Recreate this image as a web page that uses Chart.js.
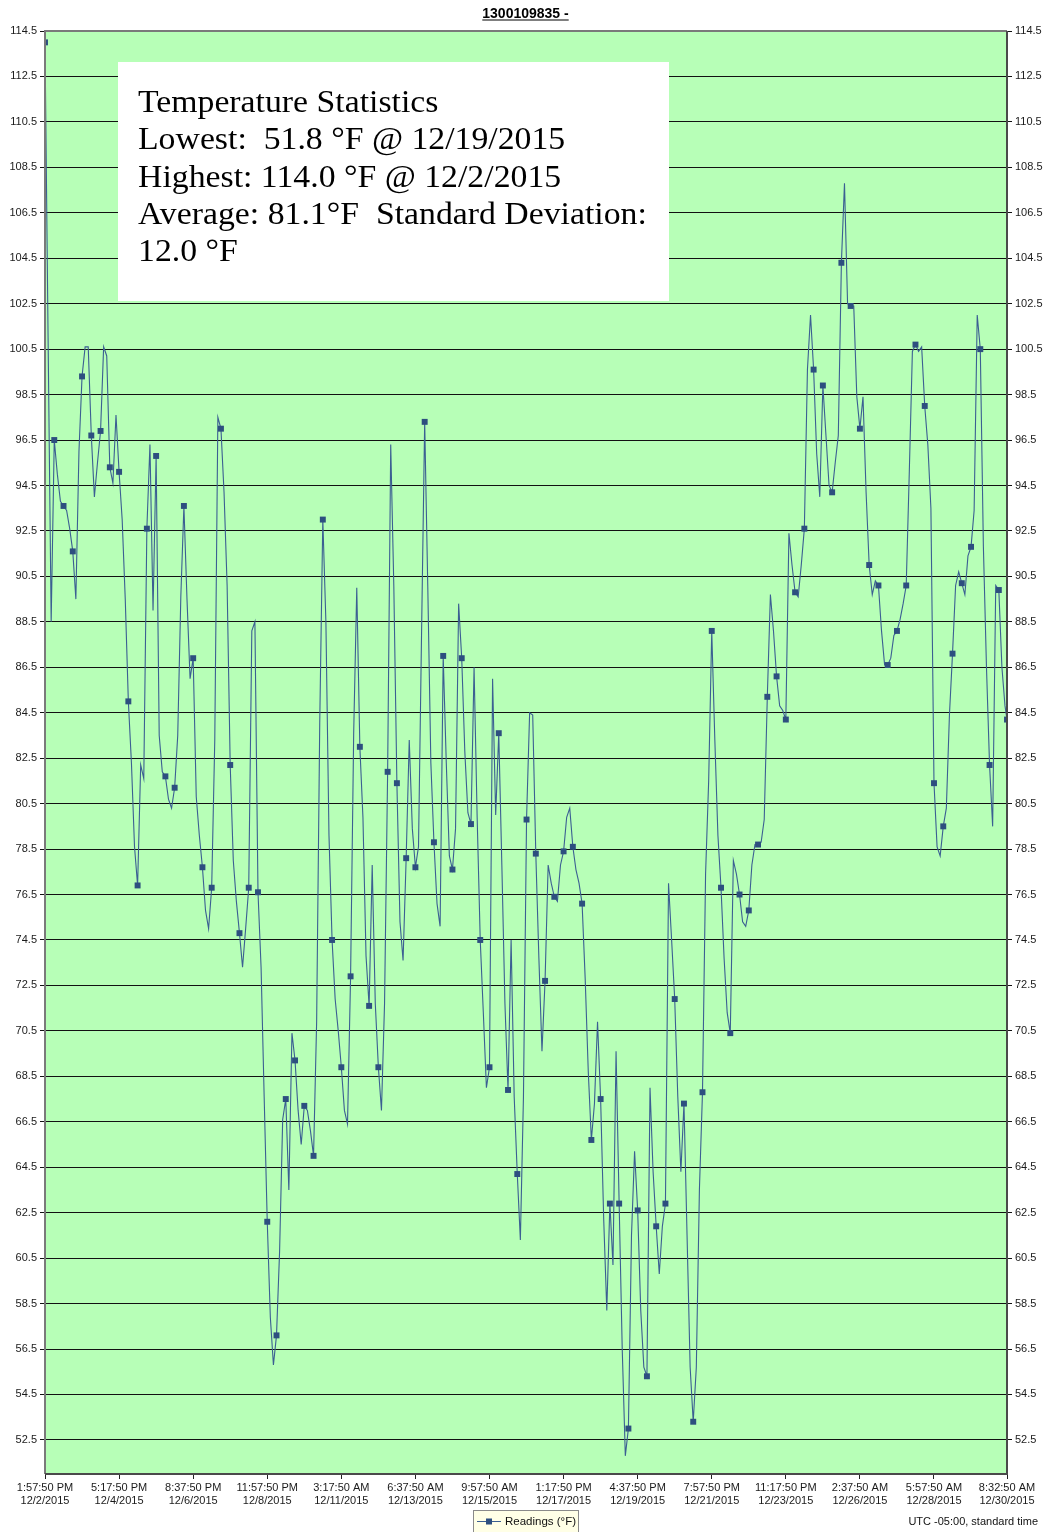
<!DOCTYPE html>
<html>
<head>
<meta charset="utf-8">
<title>1300109835 - Readings</title>
<script src="https://cdn.jsdelivr.net/npm/chart.js@4.4.1/dist/chart.umd.min.js"></script>
<style>
  html, body { margin: 0; padding: 0; background: #ffffff; }
  canvas { display: block; }
</style>
</head>
<body>
<canvas id="chart" width="1043" height="1532"></canvas>
<script>
// Logger readings (°F), one value every STEP_MIN minutes from 12/2/2015 1:57:50 PM
const readings = [
  114.0, 101.0, 88.5, 96.5, 95.0, 93.8, 93.6, 93.4, 92.6, 91.6,
  89.5, 96.0, 99.3, 100.6, 100.6, 96.7, 94.0, 95.5, 96.9, 100.6,
  100.2, 95.3, 94.6, 97.6, 95.1, 93.0, 89.5, 85.0, 82.3, 78.6,
  76.9, 82.2, 81.6, 92.6, 96.3, 89.0, 95.8, 83.5, 81.9, 81.7,
  80.7, 80.3, 81.2, 83.5, 89.6, 93.6, 89.5, 86.0, 86.9, 80.8,
  79.1, 77.7, 75.8, 75.0, 76.8, 83.3, 97.5, 97.0, 94.2, 90.1,
  82.2, 78.0, 76.2, 74.8, 73.3, 75.0, 76.8, 88.1, 88.5, 76.6,
  73.3, 67.6, 62.1, 57.9, 55.8, 57.1, 60.8, 66.6, 67.5, 63.5,
  70.4, 69.2, 67.0, 65.5, 67.2, 67.0, 66.1, 65.0, 70.9, 84.0,
  93.0, 88.5, 79.1, 74.5, 71.9, 70.5, 68.9, 67.0, 66.4, 72.9,
  83.6, 90.0, 83.0, 79.9, 73.8, 71.6, 77.8, 71.7, 68.9, 67.0,
  71.7, 81.9, 96.3, 90.1, 81.4, 75.3, 73.6, 78.1, 83.3, 79.4,
  77.7, 78.6, 88.1, 97.3, 90.1, 82.3, 78.8, 76.1, 75.1, 87.0,
  82.3, 78.2, 77.6, 79.4, 89.3, 86.9, 82.8, 80.1, 79.6, 86.5,
  79.9, 74.5, 71.3, 68.0, 68.9, 86.0, 80.0, 83.6, 77.8, 71.7,
  67.9, 74.5, 67.6, 64.2, 61.3, 67.6, 79.8, 84.5, 84.4, 78.3,
  73.7, 69.6, 72.7, 77.8, 77.0, 76.4, 76.2, 77.8, 78.4, 79.9,
  80.3, 78.6, 77.6, 77.0, 76.1, 72.8, 68.7, 65.7, 67.3, 70.9,
  67.5, 62.2, 58.2, 62.9, 60.2, 69.6, 62.9, 56.5, 51.8, 53.0,
  61.5, 65.2, 62.6, 58.2, 55.7, 55.3, 68.0, 64.3, 61.9, 59.8,
  61.9, 62.9, 77.0, 74.5, 71.9, 67.6, 64.3, 67.3, 61.5, 55.7,
  53.3, 55.7, 63.5, 67.8, 77.4, 81.5, 88.1, 83.3, 79.1, 76.8,
  73.7, 71.3, 70.4, 78.0, 77.4, 76.5, 75.3, 75.1, 75.8, 77.8,
  78.7, 78.7, 78.8, 79.8, 85.2, 89.7, 88.1, 86.1, 84.8, 84.6,
  84.2, 92.4, 91.0, 89.8, 89.6, 91.0, 92.6, 99.6, 102.0, 99.6,
  95.9, 94.0, 98.9, 96.7, 94.5, 94.2, 95.5, 96.7, 104.3, 107.8,
  102.5, 102.4, 102.4, 98.4, 97.0, 98.4, 94.2, 91.0, 89.7, 90.3,
  90.1, 88.1, 86.6, 86.6, 86.9, 87.9, 88.1, 88.6, 89.3, 90.1,
  95.1, 100.4, 100.7, 100.4, 100.6, 98.0, 96.3, 93.5, 81.4, 78.6,
  78.2, 79.5, 80.3, 84.4, 87.1, 90.1, 90.7, 90.2, 89.7, 91.4,
  91.8, 93.4, 102.0, 100.5, 91.8, 86.5, 82.2, 79.5, 90.1, 89.9,
  86.5, 84.8, 84.2
];

const STEP_MIN = 385 / 3;      // logging interval, minutes
const END_MIN = 39995;         // last reading: 12/30/2015 8:32:50 AM
const MARK_EVERY = 3;          // a marker on every third reading

// X axis ticks (minutes from the first reading) and their labels
const tickMinutes = [0, 3080, 6160, 9240, 12320, 15400, 18480, 21560, 24640, 27720, 30800, 33880, 36960, 39995];
const tickTimes = ['1:57:50 PM', '5:17:50 PM', '8:37:50 PM', '11:57:50 PM', '3:17:50 AM', '6:37:50 AM', '9:57:50 AM',
                   '1:17:50 PM', '4:37:50 PM', '7:57:50 PM', '11:17:50 PM', '2:37:50 AM', '5:57:50 AM', '8:32:50 AM'];
const tickDates = ['12/2/2015', '12/4/2015', '12/6/2015', '12/8/2015', '12/11/2015', '12/13/2015', '12/15/2015',
                   '12/17/2015', '12/19/2015', '12/21/2015', '12/23/2015', '12/26/2015', '12/28/2015', '12/30/2015'];

// Y axis ticks (°F)
const yTicks = [52.5, 54.5, 56.5, 58.5, 60.5, 62.5, 64.5, 66.5, 68.5, 70.5, 72.5, 74.5, 76.5, 78.5, 80.5, 82.5,
                84.5, 86.5, 88.5, 90.5, 92.5, 94.5, 96.5, 98.5, 100.5, 102.5, 104.5, 106.5, 108.5, 110.5, 112.5, 114.5];
const Y_MIN = 51.0, Y_MAX = 114.5;

const chartTitle = '1300109835 -';
const seriesLabel = 'Readings (°F)';
const zoneNote = 'UTC -05:00, standard time';
const statsLines = [
  'Temperature Statistics',
  'Lowest:  51.8 °F @ 12/19/2015',
  'Highest: 114.0 °F @ 12/2/2015',
  'Average: 81.1°F  Standard Deviation:',
  '12.0 °F'
];

const LINE_COLOR = '#3b5f92';
const MARK_COLOR = '#2d4f7f';
const PLOT_BG = '#b7ffb7';
const SANS = '"Liberation Sans", Arial, sans-serif';

const points = readings.map((v, i) => ({ x: Math.min(i * STEP_MIN, END_MIN), y: v }));

const decor = {
  id: 'decor',
  beforeDraw(chart) {
    const { ctx, chartArea: a } = chart;
    ctx.save();
    ctx.fillStyle = '#ffffff';
    ctx.fillRect(0, 0, chart.width, chart.height);
    ctx.fillStyle = PLOT_BG;
    ctx.fillRect(a.left, a.top, a.right - a.left, a.bottom - a.top);
    ctx.restore();
  },
  beforeDatasetsDraw(chart) {
    // statistics panel over the grid
    const { ctx, chartArea: a } = chart;
    const bx = a.left + 73, by = a.top + 31, bw = 551, bh = 239;
    ctx.save();
    ctx.fillStyle = '#ffffff';
    ctx.fillRect(bx, by, bw, bh);
    ctx.fillStyle = '#000000';
    ctx.font = '32px "Liberation Serif", "DejaVu Serif", serif';
    ctx.textBaseline = 'alphabetic';
    ctx.textAlign = 'left';
    ctx.translate(bx + 20, by + 50);
    ctx.scale(1.055, 1);
    statsLines.forEach((t, k) => ctx.fillText(t, 0, k * 37.3));
    ctx.restore();
  },
  afterDatasetsDraw(chart) {
    const { ctx, chartArea: a } = chart;
    ctx.save();
    ctx.lineWidth = 2;
    ctx.strokeStyle = '#7a7a7a';
    ctx.beginPath();
    ctx.moveTo(a.left, a.bottom); ctx.lineTo(a.left, a.top); ctx.lineTo(a.right, a.top);
    ctx.stroke();
    ctx.strokeStyle = '#4a4a4a';
    ctx.beginPath();
    ctx.moveTo(a.right, a.top); ctx.lineTo(a.right, a.bottom); ctx.lineTo(a.left, a.bottom);
    ctx.stroke();
    ctx.restore();
  },
  afterDraw(chart) {
    const { ctx } = chart;
    const cx = 525.5;
    ctx.save();
    // title, underlined
    ctx.fillStyle = '#000000';
    ctx.font = 'bold 14px ' + SANS;
    ctx.textAlign = 'center';
    ctx.textBaseline = 'alphabetic';
    ctx.fillText(chartTitle, cx, 18);
    const tw = ctx.measureText(chartTitle).width;
    ctx.fillRect(cx - tw / 2, 19.5, tw, 1);

    // legend
    const lx = 473, ly = 1510, lw = 105, lh = 24;
    ctx.fillStyle = '#ffffe6';
    ctx.fillRect(lx, ly, lw, lh);
    ctx.strokeStyle = '#8a8a8a';
    ctx.lineWidth = 1;
    ctx.strokeRect(lx + 0.5, ly + 0.5, lw, lh);
    const my = ly + 11.5;
    ctx.strokeStyle = LINE_COLOR;
    ctx.beginPath();
    ctx.moveTo(lx + 4, my); ctx.lineTo(lx + 28, my);
    ctx.stroke();
    ctx.fillStyle = MARK_COLOR;
    ctx.fillRect(lx + 13, my - 3, 6, 6);
    ctx.fillStyle = '#111111';
    ctx.font = '11.5px ' + SANS;
    ctx.textAlign = 'left';
    ctx.textBaseline = 'middle';
    ctx.fillText(seriesLabel, lx + 32, my + 0.5);

    // time zone note
    ctx.font = '11px ' + SANS;
    ctx.textAlign = 'right';
    ctx.fillText(zoneNote, 1038, 1522);
    ctx.restore();
  }
};

const tickFont = { family: SANS, size: 11, lineHeight: 1.2 };
const setYTicks = s => { s.ticks = yTicks.map(v => ({ value: v })); };

new Chart(document.getElementById('chart'), {
  type: 'line',
  data: {
    datasets: [{
      label: seriesLabel,
      data: points,
      borderColor: LINE_COLOR,
      borderWidth: 1.1,
      tension: 0,
      fill: false,
      pointStyle: 'rect',
      pointRadius: c => (c.dataIndex % MARK_EVERY === 0 || c.dataIndex === readings.length - 1 ? 4.2 : 0),
      pointHoverRadius: 0,
      pointBackgroundColor: MARK_COLOR,
      pointBorderWidth: 0,
      yAxisID: 'y'
    }]
  },
  options: {
    responsive: false,
    animation: false,
    events: [],
    layout: { padding: { top: 31, left: 0, right: 0, bottom: 0 } },
    plugins: { legend: { display: false }, tooltip: { enabled: false }, title: { display: false } },
    scales: {
      x: {
        type: 'linear',
        min: 0,
        max: END_MIN,
        afterBuildTicks: s => { s.ticks = tickMinutes.map(v => ({ value: v })); },
        afterFit: s => { s.height = 58; },
        border: { display: false },
        grid: { drawOnChartArea: false, drawTicks: true, tickLength: 5, color: '#222222' },
        ticks: {
          autoSkip: false, maxRotation: 0, minRotation: 0, padding: 2,
          color: '#1a1a1a', font: tickFont,
          callback: (v, i) => [tickTimes[i], tickDates[i]]
        }
      },
      y: {
        type: 'linear',
        position: 'left',
        min: Y_MIN,
        max: Y_MAX,
        afterBuildTicks: setYTicks,
        afterFit: s => { s.width = 45; },
        border: { display: false },
        grid: { color: '#111111', lineWidth: 1, tickLength: 5 },
        ticks: { padding: 3, color: '#1a1a1a', font: tickFont, callback: v => v.toFixed(1) }
      },
      y2: {
        type: 'linear',
        position: 'right',
        min: Y_MIN,
        max: Y_MAX,
        afterBuildTicks: setYTicks,
        afterFit: s => { s.width = 36; },
        border: { display: false },
        grid: { drawOnChartArea: false, color: '#111111', tickLength: 5 },
        ticks: { padding: 3, color: '#1a1a1a', font: tickFont, callback: v => v.toFixed(1) }
      }
    }
  },
  plugins: [decor]
});
</script>
</body>
</html>
